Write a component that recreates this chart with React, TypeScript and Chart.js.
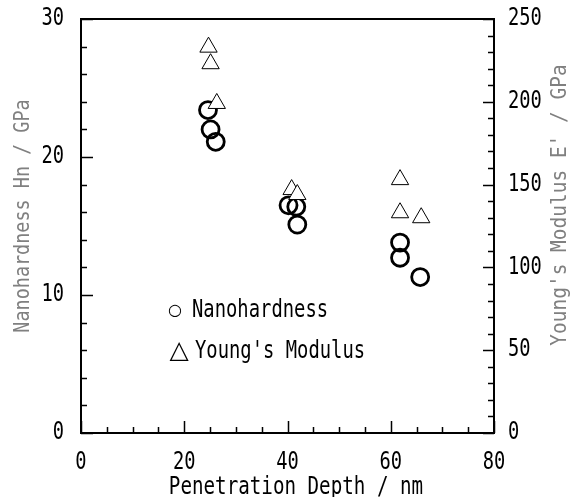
import React, { useEffect, useRef } from "react";
import { Chart, registerables } from "chart.js";

Chart.register(...registerables);

// ---- data ----
const hardnessDepth = [24.6, 25.1, 26.1, 40.2, 41.7, 41.9, 61.8, 61.8, 65.7];
const hardnessValues = [23.4, 22.0, 21.1, 16.5, 16.4, 15.1, 13.8, 12.7, 11.3];
const modulusDepth = [24.7, 25.1, 26.3, 40.8, 41.9, 61.8, 61.8, 65.9];
const modulusValues = [233, 223, 199, 147, 144, 153, 133, 130];

const xTicks = [0, 20, 40, 60, 80];
const hardnessTicks = [0, 10, 20, 30];
const modulusTicks = [0, 50, 100, 150, 200, 250];
const xMinorStep = 5;
const hardnessMinorStep = 2;
const modulusMinorStep = 10;

const xTitle = "Penetration Depth / nm";
const hardnessTitle = "Nanohardness Hn / GPa";
const modulusTitle = "Young's Modulus E' / GPa";
const hardnessLabel = "Nanohardness";
const modulusLabel = "Young's Modulus";

const FONT = "'DejaVu Sans Mono', 'Liberation Mono', monospace";

function narrowText(
  ctx: CanvasRenderingContext2D,
  text: string,
  x: number,
  y: number,
  size: number,
  sx: number,
  align: CanvasTextAlign,
  rot = 0
) {
  ctx.save();
  ctx.translate(x, y);
  if (rot) ctx.rotate(rot);
  ctx.scale(sx, 1);
  ctx.font = `${size}px ${FONT}`;
  ctx.textAlign = align;
  ctx.textBaseline = "middle";
  ctx.fillText(text, 0, 0);
  ctx.restore();
}

const decorPlugin = {
  id: "decor",
  afterDraw(chart: any) {
    const ctx = chart.ctx as CanvasRenderingContext2D;
    const { left, right, top, bottom } = chart.chartArea;
    const xs = chart.scales.x;
    const ys = chart.scales.y;
    const y1 = chart.scales.y1;
    ctx.save();
    ctx.strokeStyle = "#000";
    // ticks (inward)
    ctx.lineWidth = 1.5;
    ctx.beginPath();
    for (let v = xs.min; v <= xs.max + 1e-9; v += xMinorStep) {
      const px = Math.round(xs.getPixelForValue(v)) + 0.5;
      const len = xTicks.includes(v) ? 12 : 6;
      ctx.moveTo(px, bottom);
      ctx.lineTo(px, bottom - len);
    }
    for (let v = ys.min; v <= ys.max + 1e-9; v += hardnessMinorStep) {
      const py = Math.round(ys.getPixelForValue(v)) + 0.5;
      const len = hardnessTicks.includes(v) ? 12 : 6;
      ctx.moveTo(left, py);
      ctx.lineTo(left + len, py);
    }
    for (let v = y1.min; v <= y1.max + 1e-9; v += modulusMinorStep) {
      const py = Math.round(y1.getPixelForValue(v)) + 0.5;
      const len = modulusTicks.includes(v) ? 11 : 6;
      ctx.moveTo(right, py);
      ctx.lineTo(right - len, py);
    }
    ctx.stroke();
    // frame
    ctx.lineWidth = 2;
    ctx.strokeRect(left, top, right - left, bottom - top);

    // tick labels
    ctx.fillStyle = "#000";
    xTicks.forEach((v) => narrowText(ctx, String(v), xs.getPixelForValue(v), 463, 24, 0.78, "center"));
    hardnessTicks.forEach((v) => narrowText(ctx, String(v), 64, ys.getPixelForValue(v), 24, 0.78, "right"));
    modulusTicks.forEach((v) => narrowText(ctx, String(v), 508, y1.getPixelForValue(v), 24, 0.78, "left"));

    // axis titles
    narrowText(ctx, xTitle, 296, 488, 24, 0.8, "center");
    ctx.fillStyle = "#808080";
    ctx.filter = "blur(0.4px)";
    narrowText(ctx, hardnessTitle, 24, 216, 20.5, 0.9, "center", -Math.PI / 2);
    narrowText(ctx, modulusTitle, 561, 205, 20.5, 0.95, "center", -Math.PI / 2);
    ctx.filter = "none";

    // legend
    ctx.fillStyle = "#000";
    ctx.textAlign = "center";
    ctx.textBaseline = "middle";
    ctx.font = `16px 'DejaVu Sans'`;
    ctx.fillText("○", 175, 311);
    ctx.font = `25px 'DejaVu Sans'`;
    ctx.fillText("△", 179, 351);
    narrowText(ctx, hardnessLabel, 192, 311, 24, 0.785, "left");
    narrowText(ctx, modulusLabel, 195, 352, 24, 0.785, "left");
    ctx.restore();
  },
};

export default function App() {
  const ref = useRef<HTMLCanvasElement | null>(null);
  useEffect(() => {
    if (!ref.current) return;
    const chart = new Chart(ref.current, {
      type: "scatter",
      data: {
        datasets: [
          {
            label: modulusLabel,
            data: modulusDepth.map((x, i) => ({ x, y: modulusValues[i] })),
            yAxisID: "y1",
            pointStyle: "triangle",
            pointRadius: 10,
            pointHoverRadius: 10,
            pointBorderWidth: 1,
            pointBorderColor: "#000",
            pointBackgroundColor: "#fff",
            showLine: false,
            order: 1,
          },
          {
            label: hardnessLabel,
            data: hardnessDepth.map((x, i) => ({ x, y: hardnessValues[i] })),
            yAxisID: "y",
            pointStyle: "circle",
            pointRadius: 8.5,
            pointHoverRadius: 8.5,
            pointBorderWidth: 2.8,
            pointBorderColor: "#000",
            pointBackgroundColor: "rgba(255,255,255,0)",
            showLine: false,
            order: 2,
          },
        ],
      },
      options: {
        animation: false,
        responsive: false,
        events: [],
        layout: { padding: { top: 19, left: 0, right: 0, bottom: 0 } },
        plugins: { legend: { display: false }, tooltip: { enabled: false } },
        scales: {
          x: {
            type: "linear",
            position: "bottom",
            min: 0,
            max: 80,
            grid: { display: false, drawTicks: false },
            border: { display: false },
            ticks: { display: false },
            afterBuildTicks: (s: any) => {
              s.ticks = xTicks.map((v) => ({ value: v }));
            },
            afterFit: (s: any) => {
              s.height = 64;
            },
          },
          y: {
            type: "linear",
            position: "left",
            min: 0,
            max: 30,
            grid: { display: false, drawTicks: false },
            border: { display: false },
            ticks: { display: false },
            afterBuildTicks: (s: any) => {
              s.ticks = hardnessTicks.map((v) => ({ value: v }));
            },
            afterFit: (s: any) => {
              s.width = 81;
            },
          },
          y1: {
            type: "linear",
            position: "right",
            min: 0,
            max: 250,
            grid: { display: false, drawTicks: false },
            border: { display: false },
            ticks: { display: false },
            afterBuildTicks: (s: any) => {
              s.ticks = modulusTicks.map((v) => ({ value: v }));
            },
            afterFit: (s: any) => {
              s.width = 83;
            },
          },
        },
      },
      plugins: [decorPlugin],
    } as any);
    return () => chart.destroy();
  }, []);
  return (
    <div style={{ position: "absolute", left: 0, top: 0, width: 577, height: 497, background: "#fff" }}>
      <canvas ref={ref} width={577} height={497} style={{ display: "block" }} />
    </div>
  );
}
